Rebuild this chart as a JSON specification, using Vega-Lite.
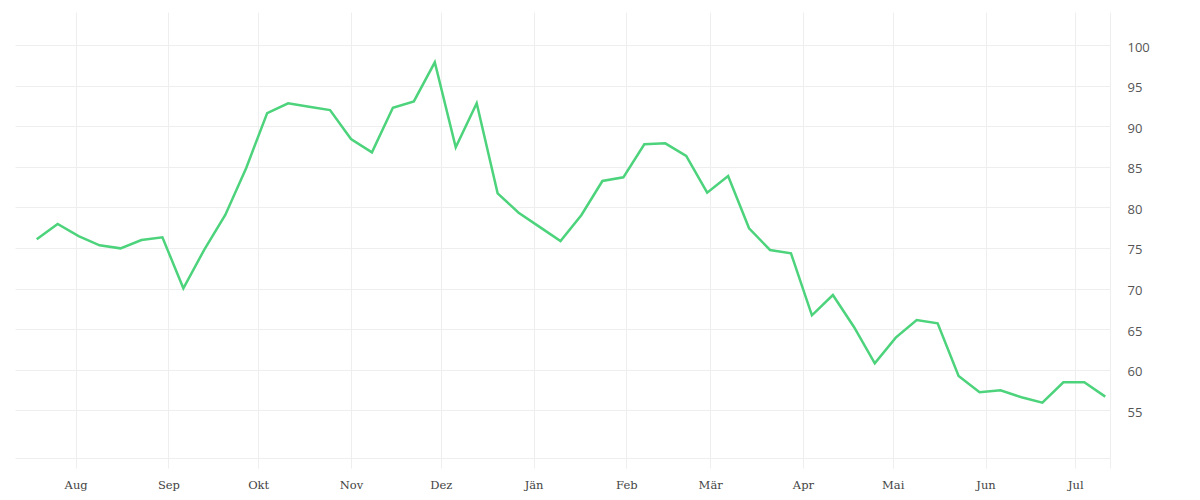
{
  "$schema": "https://vega.github.io/schema/vega-lite/v6.json",
  "width": 1095,
  "height": 456,
  "autosize": {"type": "none"},
  "padding": {"left": 15, "top": 12, "right": 90, "bottom": 32},
  "background": "#ffffff",
  "config": {"view": {"stroke": null}},
  "data": {
    "values": [
      {"date": "2022-07-19", "value": 76.06},
      {"date": "2022-07-26", "value": 77.95},
      {"date": "2022-08-02", "value": 76.47},
      {"date": "2022-08-09", "value": 75.33},
      {"date": "2022-08-16", "value": 74.95},
      {"date": "2022-08-23", "value": 75.98},
      {"date": "2022-08-30", "value": 76.31},
      {"date": "2022-09-06", "value": 70.03},
      {"date": "2022-09-13", "value": 74.8},
      {"date": "2022-09-20", "value": 79.06},
      {"date": "2022-09-27", "value": 84.85},
      {"date": "2022-10-04", "value": 91.62},
      {"date": "2022-10-11", "value": 92.82},
      {"date": "2022-10-18", "value": 92.4},
      {"date": "2022-10-25", "value": 91.99},
      {"date": "2022-11-01", "value": 88.42},
      {"date": "2022-11-08", "value": 86.78},
      {"date": "2022-11-15", "value": 92.28},
      {"date": "2022-11-22", "value": 93.06},
      {"date": "2022-11-29", "value": 97.87},
      {"date": "2022-12-06", "value": 87.4},
      {"date": "2022-12-13", "value": 92.82},
      {"date": "2022-12-20", "value": 81.73},
      {"date": "2022-12-27", "value": 79.34},
      {"date": "2023-01-03", "value": 77.6},
      {"date": "2023-01-10", "value": 75.86},
      {"date": "2023-01-17", "value": 79.06},
      {"date": "2023-01-24", "value": 83.25},
      {"date": "2023-01-31", "value": 83.7},
      {"date": "2023-02-07", "value": 87.77},
      {"date": "2023-02-14", "value": 87.89},
      {"date": "2023-02-21", "value": 86.33},
      {"date": "2023-02-28", "value": 81.81},
      {"date": "2023-03-07", "value": 83.86},
      {"date": "2023-03-14", "value": 77.42},
      {"date": "2023-03-21", "value": 74.75},
      {"date": "2023-03-28", "value": 74.34},
      {"date": "2023-04-04", "value": 66.7},
      {"date": "2023-04-11", "value": 69.2},
      {"date": "2023-04-18", "value": 65.3},
      {"date": "2023-04-25", "value": 60.79},
      {"date": "2023-05-02", "value": 63.95},
      {"date": "2023-05-09", "value": 66.12},
      {"date": "2023-05-16", "value": 65.72},
      {"date": "2023-05-23", "value": 59.23},
      {"date": "2023-05-30", "value": 57.22},
      {"date": "2023-06-06", "value": 57.46},
      {"date": "2023-06-13", "value": 56.6},
      {"date": "2023-06-20", "value": 55.94},
      {"date": "2023-06-27", "value": 58.45},
      {"date": "2023-07-04", "value": 58.45},
      {"date": "2023-07-11", "value": 56.68}
    ]
  },
  "mark": {"type": "line", "color": "#4cd37b", "strokeWidth": 2.5, "strokeJoin": "miter"},
  "encoding": {
    "x": {
      "field": "date",
      "type": "temporal",
      "title": null,
      "scale": {
        "type": "utc",
        "domain": [
          {"year": 2022, "month": 7, "date": 11, "hours": 18, "utc": true},
          {"year": 2023, "month": 7, "date": 12, "hours": 14, "utc": true}
        ]
      },
      "axis": {
        "tickCount": {"interval": "month", "step": 1},
        "labelExpr": "['Jän','Feb','Mär','Apr','Mai','Jun','Jul','Aug','Sep','Okt','Nov','Dez'][utcmonth(datum.value)]",
        "domain": false,
        "ticks": false,
        "tickSize": 0,
        "grid": true,
        "gridColor": "#eeeeee",
        "gridWidth": 1,
        "labelFont": "DejaVu Serif",
        "labelFontSize": 11.5,
        "labelColor": "#444444",
        "labelBaseline": "alphabetic",
        "labelPadding": 20,
        "labelFlush": false,
        "labelOverlap": false
      }
    },
    "y": {
      "field": "value",
      "type": "quantitative",
      "title": null,
      "scale": {"domain": [47.89, 104.07], "nice": false, "zero": false},
      "axis": {
        "orient": "right",
        "values": [49.13, 55, 60, 65, 70, 75, 80, 85, 90, 95, 100],
        "labelExpr": "datum.value < 50 ? '' : datum.label",
        "domain": true,
        "domainColor": "#eeeeee",
        "domainWidth": 1,
        "ticks": false,
        "tickSize": 0,
        "grid": true,
        "gridColor": "#eeeeee",
        "gridWidth": 1,
        "labelFont": "Open Sans",
        "labelFontSize": 13,
        "labelColor": "#555555",
        "labelPadding": 17,
        "labelBaseline": "middle",
        "labelOffset": 2,
        "labelAlign": "left"
      }
    }
  }
}
